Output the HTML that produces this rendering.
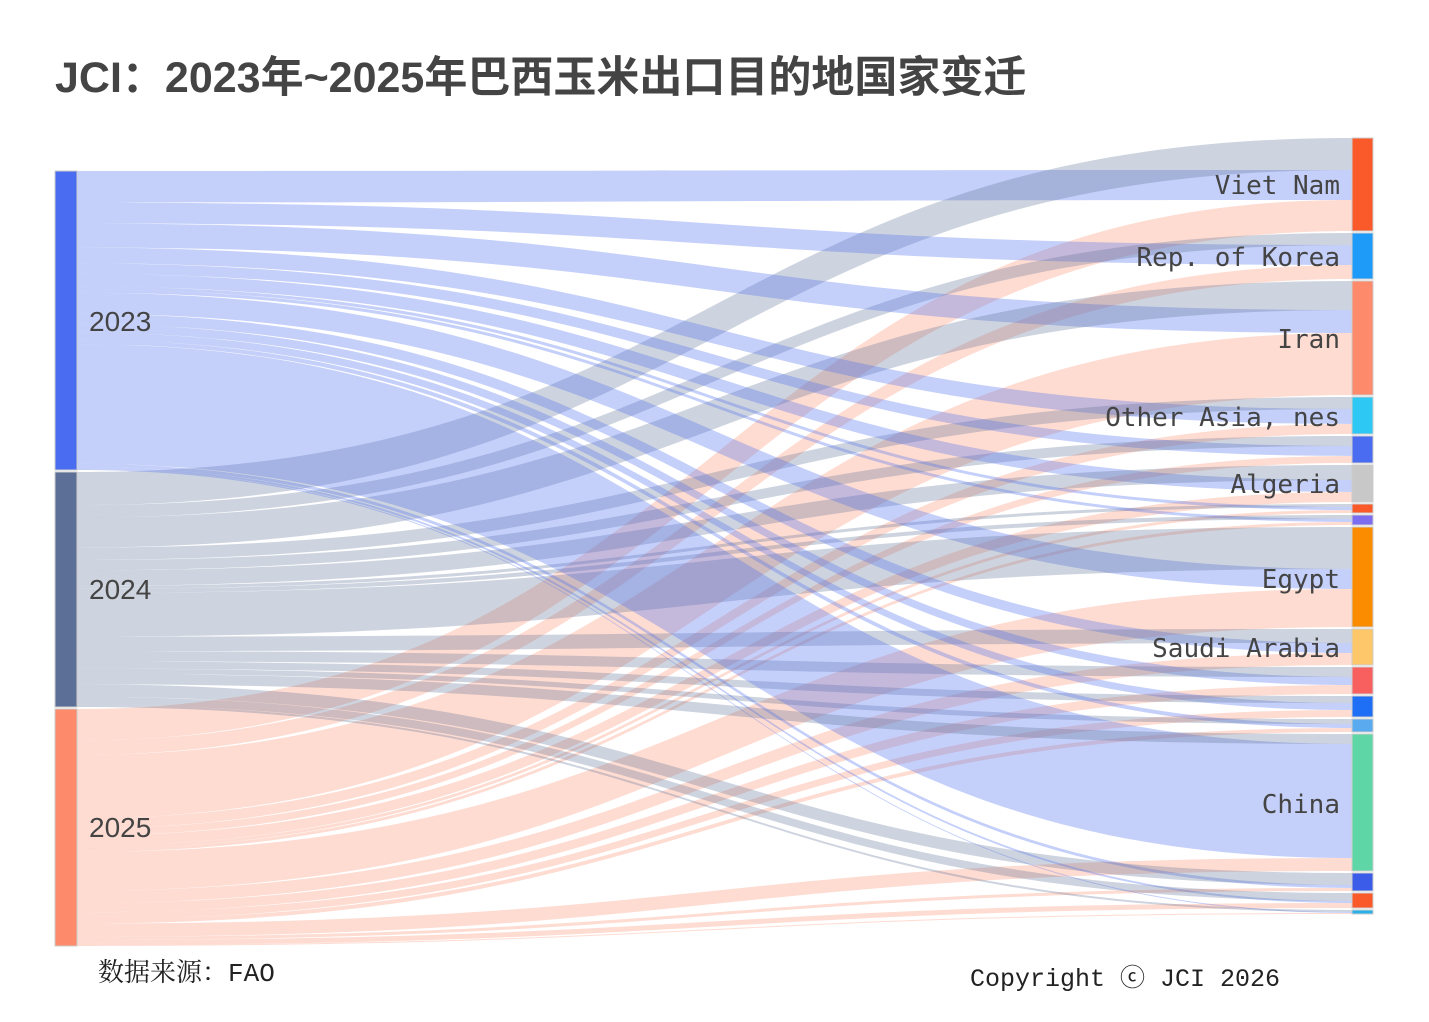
<!DOCTYPE html>
<html><head><meta charset="utf-8"><style>
html,body{margin:0;padding:0;background:#fff;}
svg{display:block;}
</style></head><body>
<svg id="s" width="1429" height="1022" xmlns="http://www.w3.org/2000/svg">
<g id="links"></g>
<g id="nodes"></g>
<text x="55" y="92" font-family="'Liberation Sans','Noto Sans CJK SC',sans-serif" font-weight="bold" font-size="43" fill="#444">JCI：2023年~2025年巴西玉米出口目的地国家变迁</text>
<g font-family="'Liberation Sans','Noto Sans CJK SC',sans-serif" font-size="28" fill="#444">
<text x="89" y="331">2023</text>
<text x="89" y="599">2024</text>
<text x="89" y="837">2025</text>
</g>
<g font-family="'DejaVu Sans Mono','Liberation Mono',monospace" font-size="26" fill="#444" text-anchor="end">
<text x="1340" y="194">Viet Nam</text>
<text x="1340" y="266">Rep. of Korea</text>
<text x="1340" y="348">Iran</text>
<text x="1340" y="426">Other Asia, nes</text>
<text x="1340" y="493">Algeria</text>
<text x="1340" y="588">Egypt</text>
<text x="1340" y="657">Saudi Arabia</text>
<text x="1340" y="813">China</text>
</g>
<text x="98" y="981" font-family="'Liberation Mono','Noto Serif CJK SC',serif" font-size="26" fill="#222">数据来源：FAO</text>
<text x="970" y="986" font-family="'Liberation Mono','Noto Sans CJK SC',monospace" font-size="25" fill="#222">Copyright ⓒ JCI 2026</text>
</svg>
<script>
var NS="http://www.w3.org/2000/svg";
var src=[{y0:171,y1:470,c:"#4a6cf0",l:"rgba(74,108,240,0.32)"},{y0:472,y1:707,c:"#5c6f96",l:"rgba(92,111,150,0.3)"},{y0:709,y1:946,c:"#fd8a6a",l:"rgba(253,138,106,0.3)"}];
var tg=[
[138,231,"#fa5a2a",[30,32,31]],
[233,279,"#1e9af9",[20,12,14]],
[281,395,"#fd8a6a",[23,29,62]],
[397,434,"#2ec8f5",[15,12,10]],
[436,463,"#4a6cf0",[10,10,7]],
[465,502,"#c8c8c8",[12,15,10]],
[504,513,"#fa5a2a",[3,3,3]],
[515,525,"#7b6cf0",[3,4,3]],
[527,627,"#fb8c00",[20,42,38]],
[629,665,"#fdc76a",[10,14,12]],
[667,694,"#f85f5f",[8,10,9]],
[696,717,"#1e6ff5",[7,7,7]],
[719,732,"#5aaaf0",[4,5,4]],
[734,871,"#5fd6a6",[114,10,13]],
[873,891,"#3a5ce8",[3,12,3]],
[893,908,"#fa5a2a",[2,8,5]],
[910,914,"#2ab0e8",[1,2,1]]
];
var L=document.getElementById("links"),N=document.getElementById("nodes");
var sums=[0,0,0];tg.forEach(function(t){for(var i=0;i<3;i++)sums[i]+=t[3][i];});
var sy=src.map(function(s){return s.y0;});
var ks=src.map(function(s,i){return (s.y1-s.y0)/sums[i];});
var x0=77,x1=1352,xm=(x0+x1)/2;
tg.forEach(function(t){
 var tot=t[3][0]+t[3][1]+t[3][2],kt=(t[1]-t[0])/tot,ty=t[0];
 var ord=[1,0,2];
 var tpos={};
 ord.forEach(function(i){tpos[i]=ty;ty+=t[3][i]*kt;});
 for(var i=0;i<3;i++){
  var v=t[3][i];if(!v)continue;
  var a0=sy[i],a1=a0+v*ks[i];sy[i]=a1;
  var b0=tpos[i],b1=b0+v*kt;
  var p=document.createElementNS(NS,"path");
  p.setAttribute("d","M"+x0+","+a0+"C"+xm+","+a0+" "+xm+","+b0+" "+x1+","+b0+"L"+x1+","+b1+"C"+xm+","+b1+" "+xm+","+a1+" "+x0+","+a1+"Z");
  p.setAttribute("fill",src[i].l);
  L.appendChild(p);
 }
 var r=document.createElementNS(NS,"rect");
 r.setAttribute("x",1352);r.setAttribute("y",t[0]);r.setAttribute("width",21);r.setAttribute("height",t[1]-t[0]);
 r.setAttribute("fill",t[2]);r.setAttribute("stroke","#ccc");r.setAttribute("stroke-width","1");
 N.appendChild(r);
});
src.forEach(function(s){
 var r=document.createElementNS(NS,"rect");
 r.setAttribute("x",55);r.setAttribute("y",s.y0);r.setAttribute("width",22);r.setAttribute("height",s.y1-s.y0);
 r.setAttribute("fill",s.c);r.setAttribute("stroke","#ccc");r.setAttribute("stroke-width","1");
 N.appendChild(r);
});
</script>
</body></html>
